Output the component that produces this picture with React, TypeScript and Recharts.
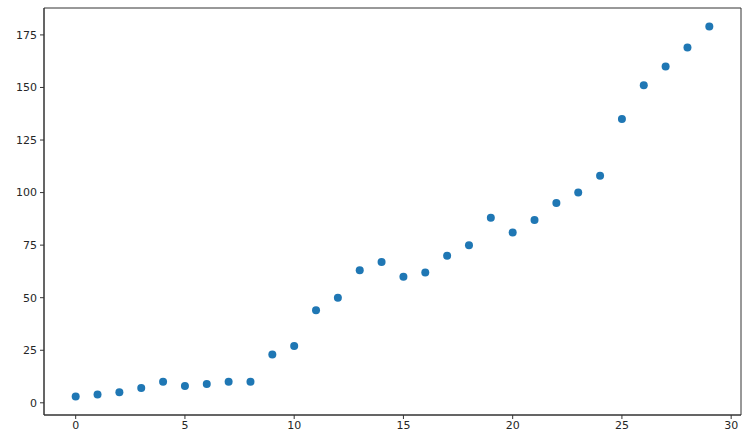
import { ScatterChart, Scatter, XAxis, YAxis, ReferenceArea } from "recharts";

// values
const xs = [
  0, 1, 2, 3, 4, 5, 6, 7, 8, 9, 10, 11, 12, 13, 14, 15, 16, 17, 18, 19, 20,
  21, 22, 23, 24, 25, 26, 27, 28, 29,
];
const ys = [
  3, 4, 5, 7, 10, 8, 9, 10, 10, 23, 27, 44, 50, 63, 67, 60, 62, 70, 75, 88, 81,
  87, 95, 100, 108, 135, 151, 160, 169, 179,
];
const xTicks = [0, 5, 10, 15, 20, 25, 30];
const yTicks = [0, 25, 50, 75, 100, 125, 150, 175];

const data = xs.map((x, i) => ({ x, y: ys[i] }));

const xDomain: [number, number] = [-1.45, 30.45];
const yDomain: [number, number] = [-5.8, 187.8];

const tickStyle = { fontSize: 11, fill: "#262626", fontFamily: "DejaVu Sans" };
const axisLine = { stroke: "#333", strokeWidth: 1 };

function Dot(props: any) {
  const { cx, cy } = props;
  return <circle cx={cx} cy={cy} r={4} fill="#1f77b4" />;
}

export default function App() {
  return (
    <div style={{ position: "absolute", left: 0, top: 0, background: "#fff" }}>
      <ScatterChart
        width={753}
        height={442}
        margin={{ top: 8, right: 12, bottom: 0, left: 0 }}
      >
        <XAxis
          type="number"
          dataKey="x"
          domain={xDomain}
          ticks={xTicks}
          allowDataOverflow
          height={27}
          tickSize={4}
          tickMargin={2}
          tick={tickStyle}
          axisLine={axisLine}
          tickLine={axisLine}
        />
        <YAxis
          type="number"
          dataKey="y"
          domain={yDomain}
          ticks={yTicks}
          allowDataOverflow
          width={44}
          tickSize={4}
          tickMargin={3}
          tick={tickStyle}
          axisLine={axisLine}
          tickLine={axisLine}
        />
        {/* frame: top and right spines */}
        <ReferenceArea
          x1={xDomain[0]}
          x2={xDomain[1]}
          y1={yDomain[0]}
          y2={yDomain[1]}
          fill="none"
          stroke="#333"
          strokeWidth={1}
          ifOverflow="extendDomain"
        />
        <Scatter data={data} shape={<Dot />} isAnimationActive={false} />
      </ScatterChart>
    </div>
  );
}
